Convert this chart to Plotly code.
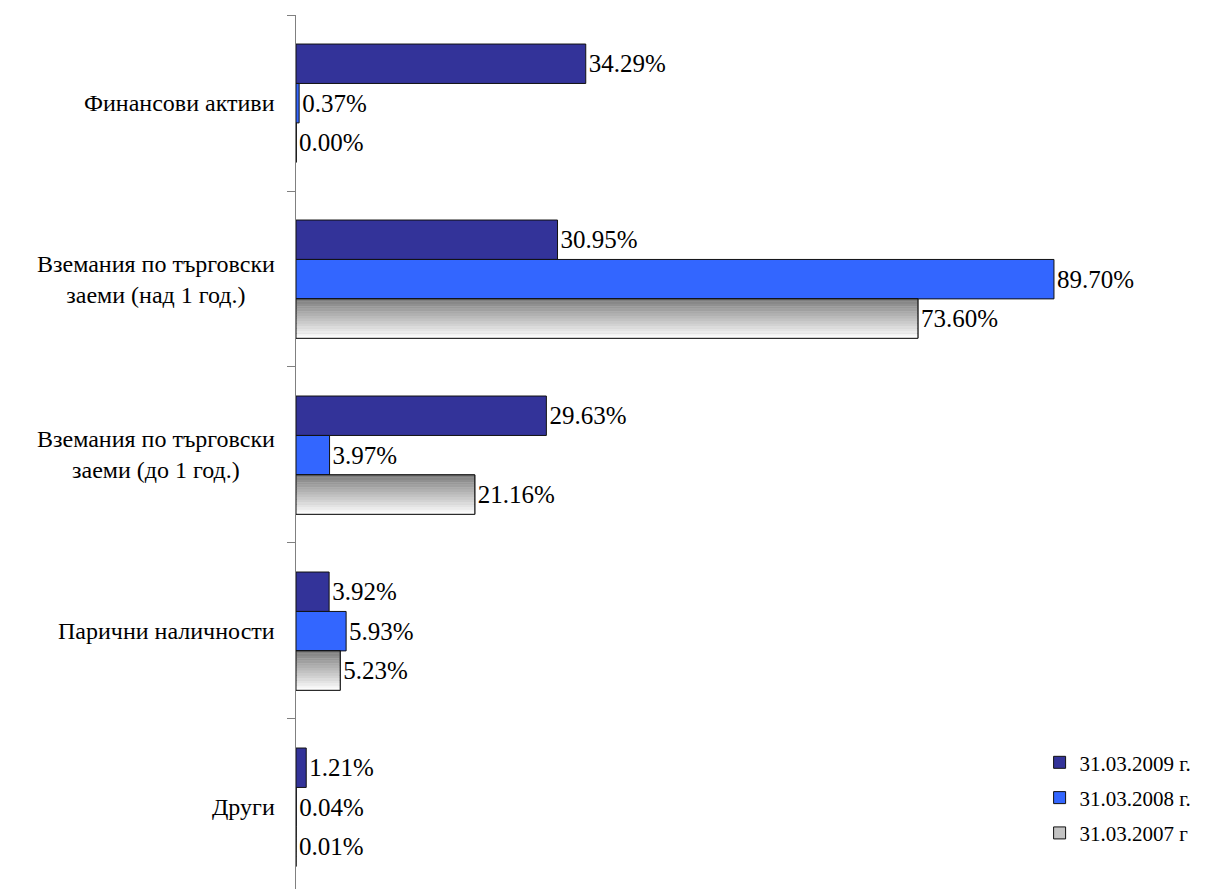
import plotly.graph_objects as go

categories = ["Финансови активи",
              "Вземания по търговски заеми (над 1 год.)",
              "Вземания по търговски заеми (до 1 год.)",
              "Парични наличности",
              "Други"]
cat_labels = ["Финансови активи",
              "Вземания по търговски<br>заеми (над 1 год.)",
              "Вземания по търговски<br>заеми (до 1 год.)",
              "Парични наличности",
              "Други"]
series_names = ["31.03.2009 г.", "31.03.2008 г.", "31.03.2007 г"]
v2009 = [34.29, 30.95, 29.63, 3.92, 1.21]
v2008 = [0.37, 89.70, 3.97, 5.93, 0.04]
v2007 = [0.00, 73.60, 21.16, 5.23, 0.01]

FONT = "Liberation Serif"
BW = 0.224
OFFS = [-0.335, -0.111, 0.113]
LINE = dict(color="#111111", width=1)
TXT = dict(family=FONT, size=25, color="black")

fig = go.Figure()
fig.add_trace(go.Bar(y=categories, x=v2009, orientation="h", name=series_names[0],
                     offset=OFFS[0], width=BW, marker=dict(color="#333399", line=LINE),
                     text=v2009, texttemplate="%{x:.2f}%", textposition="outside",
                     textfont=TXT, cliponaxis=False, legendgroup="a"))
fig.add_trace(go.Bar(y=categories, x=v2008, orientation="h", name=series_names[1],
                     offset=OFFS[1], width=BW, marker=dict(color="#3366FF", line=LINE),
                     text=v2008, texttemplate="%{x:.2f}%", textposition="outside",
                     textfont=TXT, cliponaxis=False, legendgroup="b"))
# legend carrier / base for gradient bar
fig.add_trace(go.Bar(y=categories, x=v2007, orientation="h", name=series_names[2],
                     offset=OFFS[2], width=BW, marker=dict(color="#c4c4c4", line=LINE),
                     legendgroup="c", hoverinfo="skip"))
# gradient strips
N = 16
for i in range(N):
    t = i / (N - 1)
    g = int(round(0x7f + (0xfc - 0x7f) * t))
    fig.add_trace(go.Bar(y=categories, x=v2007, orientation="h", showlegend=False,
                         offset=OFFS[2] + i * BW / N, width=BW / N + 0.0005,
                         marker=dict(color=f"rgb({g},{g},{g})", line=dict(width=0)),
                         hoverinfo="skip"))
# outline + labels on top
fig.add_trace(go.Bar(y=categories, x=v2007, orientation="h", showlegend=False,
                     offset=OFFS[2], width=BW,
                     marker=dict(color="rgba(0,0,0,0)", line=LINE),
                     text=v2007, texttemplate="%{x:.2f}%", textposition="outside",
                     textfont=TXT, cliponaxis=False, name=series_names[2]))

for cat, lab in zip(categories, cat_labels):
    fig.add_annotation(x=0, xref="paper", y=cat, yref="y", text=lab, showarrow=False,
                       xanchor="right", yanchor="middle", xshift=-19, align="center",
                       font=dict(family=FONT, size=24, color="black"))

fig.update_layout(
    width=1214, height=889,
    margin=dict(l=288, r=81, t=7, b=8),
    paper_bgcolor="white", plot_bgcolor="white",
    barmode="overlay",
    font=dict(family=FONT, color="black"),
    xaxis=dict(visible=False, range=[0, 100]),
    yaxis=dict(range=[4.466, -0.5], showline=True, linecolor="#808080", linewidth=1,
               ticks="outside", ticklen=8, tickcolor="#808080", tickson="boundaries",
               showticklabels=False, showgrid=False, zeroline=False),
    legend=dict(x=0.88, xanchor="left", y=0.168, yanchor="top",
                font=dict(family=FONT, size=21, color="black"),
                traceorder="grouped", tracegroupgap=5, bgcolor="rgba(0,0,0,0)"),
    showlegend=True,
)
fig.write_html("out.html")
